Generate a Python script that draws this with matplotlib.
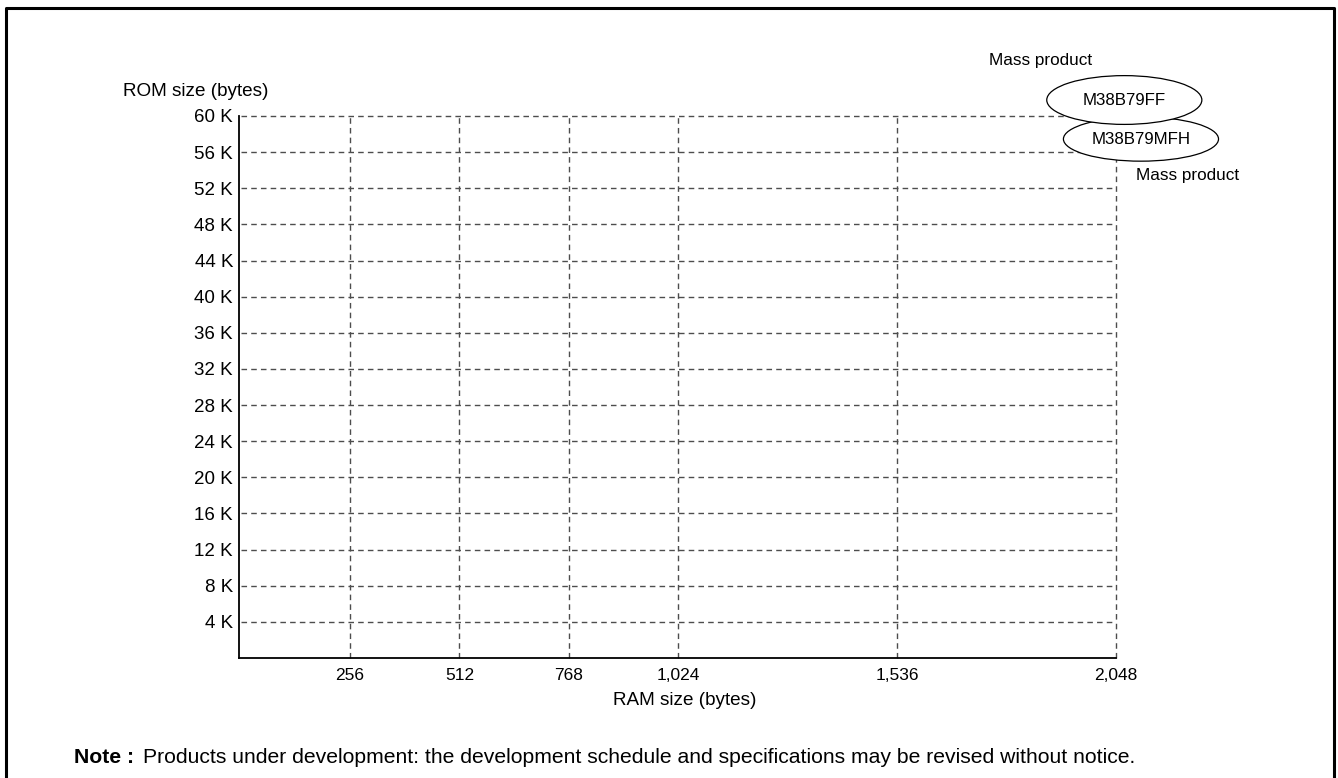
import matplotlib.pyplot as plt
from matplotlib.patches import Ellipse
from matplotlib.ticker import FuncFormatter

plt.rcParams['font.family'] = ['Liberation Sans', 'DejaVu Sans']

# axis ticks
ram_ticks = [256, 512, 768, 1024, 1536, 2048]
rom_ticks = [4, 8, 12, 16, 20, 24, 28, 32, 36, 40, 44, 48, 52, 56, 60]

# products (RAM bytes, ROM K bytes)
products = ['M38B79FF', 'M38B79MFH']
prod_ram = [2048, 2048]
prod_rom = [60, 56]
prod_status = ['Mass product', 'Mass product']

note_text = 'Products under development: the development schedule and specifications may be revised without notice.'

fig = plt.figure(figsize=(13.38, 7.78), dpi=100)
ax = fig.add_axes([0.1783, 0.1542, 0.6556, 0.6967])

ax.set_xlim(-5, 2048)
ax.set_ylim(0, 60)

grid_kw = dict(color='#4d4d4d', lw=1.0, ls=(0, (4, 3)), zorder=1, clip_on=False)
for r in rom_ticks:
    ax.plot([0, 2048], [r, r], **grid_kw)
for m in ram_ticks:
    ax.plot([m, m], [0, 60], **grid_kw)

ax.set_xticks(ram_ticks)
ax.set_yticks(rom_ticks)
ax.xaxis.set_major_formatter(FuncFormatter(lambda v, p: f'{int(v):,}'))
ax.yaxis.set_major_formatter(FuncFormatter(lambda v, p: f'{int(v)} K'))
ax.tick_params(axis='y', length=0, labelsize=13.5, pad=4)
ax.tick_params(axis='x', length=0, labelsize=12.5, pad=15.8)
for lbl in ax.get_xticklabels():
    lbl.set_va('baseline')

for s in ['top', 'right']:
    ax.spines[s].set_visible(False)
for s in ['left', 'bottom']:
    ax.spines[s].set_linewidth(1.3)
ax.spines['left'].set_bounds(0, 60)

# product ellipses (second one first so the first sits on top)
offsets = [(20, 1.77), (59, 1.45)]
heights = [5.4, 4.9]
for i in [1, 0]:
    cx = prod_ram[i] + offsets[i][0]
    cy = prod_rom[i] + offsets[i][1]
    ax.add_patch(Ellipse((cx, cy), 363, heights[i], facecolor='white',
                         edgecolor='black', lw=0.9, zorder=5 + (1 - i), clip_on=False))
    ax.text(cx, cy, products[i], ha='center', va='center', fontsize=12.2,
            zorder=7, clip_on=False)

ax.text(prod_ram[0] - 177, prod_rom[0] + 6.1, prod_status[0], ha='center', va='center', fontsize=12.3)
ax.text(prod_ram[1] + 167, prod_rom[1] - 2.64, prod_status[1], ha='center', va='center', fontsize=12.3)

fig.text(123 / 1338, 1 - 96 / 778, 'ROM size (bytes)', ha='left', va='baseline', fontsize=13.6)
fig.text(685 / 1338, 1 - 705 / 778, 'RAM size (bytes)', ha='center', va='baseline', fontsize=13.6)

note = fig.text(74 / 1338, 1 - 763 / 778, 'Note :', ha='left', va='baseline', fontsize=15.2, fontweight='bold')
ax.annotate(note_text, xy=(1, 0), xycoords=note, xytext=(6.5, 0), textcoords='offset points',
            ha='left', va='bottom', fontsize=15.2, annotation_clip=False)

# outer frame (open at the bottom)
fig.add_artist(plt.Line2D([6 / 1338, 6 / 1338, 1334 / 1338, 1334 / 1338],
                          [0, 1 - 8 / 778, 1 - 8 / 778, 0], color='black', lw=2.2,
                          transform=fig.transFigure))

fig.savefig('out.png', dpi=100)
